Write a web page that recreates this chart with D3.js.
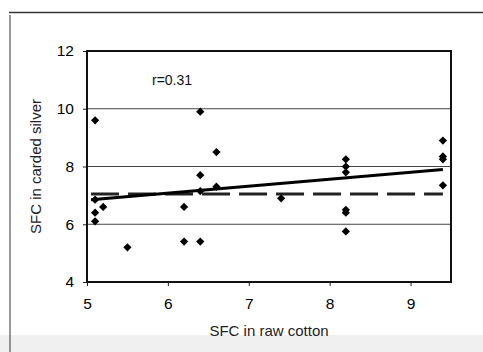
<!DOCTYPE html>
<html>
<head>
<meta charset="utf-8">
<script src="https://cdn.jsdelivr.net/npm/d3@7"></script>
<style>
  body { margin: 0; background: #fff; }
  svg { display: block; font-family: "Liberation Sans", Arial, sans-serif; }
</style>
</head>
<body>
<div id="chart"></div>
<script>
// raw cotton SFC (x) vs carded sliver SFC (y)
const rawCotton = [5.1, 5.1, 5.1, 5.1, 5.2, 5.5, 6.2, 6.2, 6.4, 6.4, 6.4, 6.4, 6.6, 6.6, 7.4, 8.2, 8.2, 8.2, 8.2, 8.2, 8.2, 9.4, 9.4, 9.4, 9.4];
const cardedSliver = [9.6, 6.85, 6.4, 6.1, 6.6, 5.2, 6.6, 5.4, 5.4, 9.9, 7.7, 7.15, 8.5, 7.3, 6.9, 8.25, 8.0, 7.8, 6.5, 6.4, 5.75, 8.9, 8.35, 8.25, 7.35];
const trendX = [5.05, 9.4];
const trendY = [6.85, 7.9];
const meanY = 7.05;
const xTicks = [5, 6, 7, 8, 9];
const yTicks = [4, 6, 8, 10, 12];

const width = 483, height = 352;
const margin = { left: 87, right: 32, top: 51, bottom: 70 };

const svg = d3.select("#chart").append("svg")
  .attr("width", width)
  .attr("height", height);

// scanned page look: outer frame + faint band
svg.append("rect").attr("x", 0).attr("y", 335).attr("width", width).attr("height", 17).attr("fill", "#f0f0f0");
svg.append("line").attr("x1", 9).attr("x2", 483).attr("y1", 12.5).attr("y2", 12.5).attr("stroke", "#333").attr("stroke-width", 1.5);
svg.append("line").attr("x1", 10).attr("x2", 10).attr("y1", 15).attr("y2", 352).attr("stroke", "#555").attr("stroke-width", 1.2);

const x = d3.scaleLinear().domain([5, 9.5]).range([margin.left, width - margin.right]);
const y = d3.scaleLinear().domain([4, 12]).range([height - margin.bottom, margin.top]);

// gridlines
svg.append("g")
  .selectAll("line")
  .data(yTicks.filter(d => d > 4 && d < 12))
  .join("line")
  .attr("x1", x(5)).attr("x2", x(9.5))
  .attr("y1", d => y(d)).attr("y2", d => y(d))
  .attr("stroke", "#444").attr("stroke-width", 1);

// axes
const xAxis = svg.append("g")
  .attr("transform", `translate(0,${y(4)})`)
  .call(d3.axisBottom(x).tickValues(xTicks).tickSize(4).tickPadding(12).tickFormat(d3.format("d")));
const yAxis = svg.append("g")
  .attr("transform", `translate(${x(5)},0)`)
  .call(d3.axisLeft(y).tickValues(yTicks).tickSize(4).tickPadding(9).tickFormat(d3.format("d")));
[xAxis, yAxis].forEach(a => {
  a.select(".domain").remove();
  a.selectAll("text").attr("font-size", 15.5).attr("fill", "#000").attr("font-family", "Liberation Sans, Arial, sans-serif");
  a.selectAll(".tick line").attr("stroke", "#222");
});

// plot frame
svg.append("rect")
  .attr("x", x(5)).attr("y", y(12))
  .attr("width", x(9.5) - x(5)).attr("height", y(4) - y(12))
  .attr("fill", "none").attr("stroke", "#111").attr("stroke-width", 2);

// mean line (dashed)
svg.append("line")
  .attr("x1", x(5.05)).attr("x2", x(9.4))
  .attr("y1", y(meanY)).attr("y2", y(meanY))
  .attr("stroke", "#222").attr("stroke-width", 3)
  .attr("stroke-dasharray", "28,9");

// regression line
svg.append("path")
  .datum(trendX.map((d, i) => [d, trendY[i]]))
  .attr("d", d3.line().x(d => x(d[0])).y(d => y(d[1])))
  .attr("fill", "none").attr("stroke", "#000").attr("stroke-width", 3);

// points (square diamonds)
svg.append("g")
  .selectAll("path")
  .data(rawCotton.map((d, i) => [d, cardedSliver[i]]))
  .join("path")
  .attr("transform", d => `translate(${x(d[0])},${y(d[1])}) rotate(45)`)
  .attr("d", d3.symbol().type(d3.symbolSquare).size(34))
  .attr("fill", "#000");

svg.append("text")
  .attr("x", 152).attr("y", 85)
  .attr("font-size", 14).attr("fill", "#111")
  .text("r=0.31");

svg.append("text")
  .attr("x", (x(5) + x(9.5)) / 2).attr("y", 336)
  .attr("text-anchor", "middle").attr("font-size", 15).attr("fill", "#222")
  .text("SFC in raw cotton");

svg.append("text")
  .attr("transform", `translate(41,${(y(4) + y(12)) / 2}) rotate(-90)`)
  .attr("text-anchor", "middle").attr("font-size", 15).attr("fill", "#222")
  .text("SFC in carded silver");
</script>
</body>
</html>
